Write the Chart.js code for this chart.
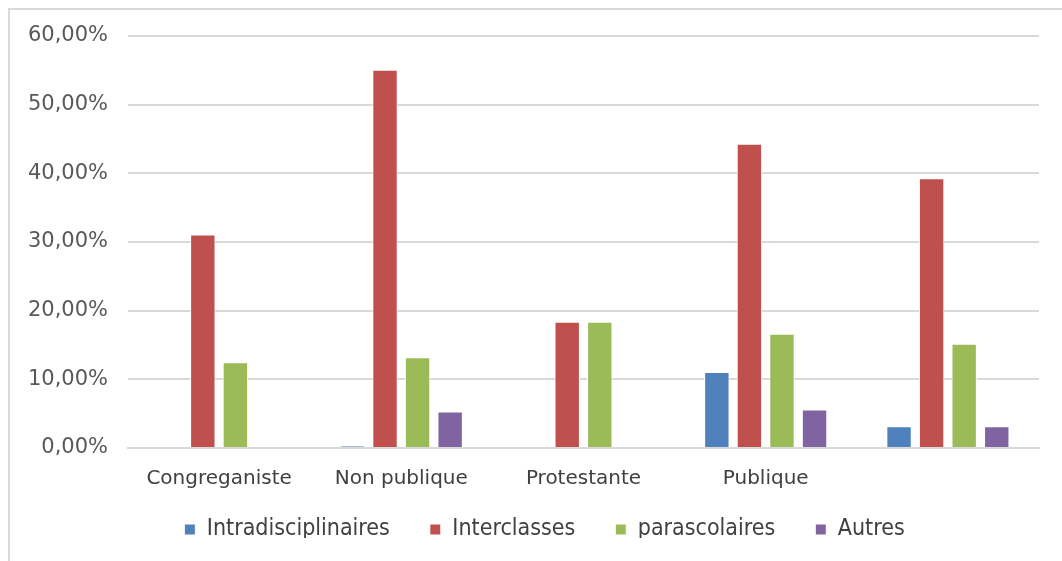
<!DOCTYPE html>
<html lang="fr">
<head>
  <meta charset="UTF-8" />
  <title>Activités par type d'établissement</title>
  <script src="https://cdn.jsdelivr.net/npm/chart.js"></script>
  <style>
    html, body {
      margin: 0;
      padding: 0;
      background: #fff;
      overflow: hidden;
    }
    #frame {
      position: absolute;
      left: 8px;
      top: 8px;
      width: 1100px;
      height: 600px;
      border: 2px solid #d9d9d9;
    }
    #wrap {
      position: absolute;
      left: 0;
      top: 0;
      width: 1062px;
      height: 561px;
    }
  </style>
</head>
<body>
  <div id="frame"></div>
  <div id="wrap"><canvas id="chart"></canvas></div>

  <script>
    // données (en %)
    const categories = ["Congreganiste", "Non publique", "Protestante", "Publique", ""];
    const intradisciplinaires = [0, 0.3, 0, 11.05, 3.15];
    const interclasses = [31.1, 55.1, 18.4, 44.3, 39.3];
    const parascolaires = [12.5, 13.2, 18.4, 16.65, 15.2];
    const autres = [0, 5.3, 0, 5.6, 3.15];
    const yTicks = [0, 10, 20, 30, 40, 50, 60];

    const fmt = v => v.toFixed(2).replace(".", ",") + "%";

    function serie(label, data, color) {
      return {
        label: label,
        data: data,
        backgroundColor: color,
        borderColor: "#ffffff",
        borderWidth: 1,
        barPercentage: 0.78,
        categoryPercentage: 0.715
      };
    }

    // la légende garde un grand écart horizontal, on la remonte un peu
    const legendShift = {
      id: "legendShift",
      afterLayout(chart) {
        const lg = chart.legend;
        if (lg) {
          lg.top -= 23;
          lg.bottom -= 23;
          lg.left += 15;
          lg.right += 15;
        }
      }
    };

    const ctx = document.getElementById("chart").getContext("2d");
    new Chart(ctx, {
      type: "bar",
      data: {
        labels: categories,
        datasets: [
          serie("Intradisciplinaires", intradisciplinaires, "#4F81BD"),
          serie("Interclasses", interclasses, "#C0504D"),
          serie("parascolaires", parascolaires, "#9BBB59"),
          serie("Autres", autres, "#8064A2")
        ]
      },
      plugins: [legendShift],
      options: {
        responsive: true,
        maintainAspectRatio: false,
        animation: false,
        layout: { padding: { left: 20, right: 23, top: 36, bottom: 0 } },
        plugins: {
          tooltip: { enabled: false },
          legend: {
            position: "bottom",
            maxHeight: 60,
            labels: {
              boxWidth: 11,
              boxHeight: 11,
              padding: 40,
              color: "#404040",
              font: { family: "'Liberation Sans Narrow', 'DejaVu Sans Condensed', sans-serif", size: 23 }
            }
          }
        },
        scales: {
          x: {
            afterFit: axis => { axis.height = 53; },
            grid: { display: false, drawTicks: false },
            border: { color: "#d9d9d9", width: 2 },
            ticks: {
              padding: 19,
              color: "#404040",
              font: { family: "'DejaVu Sans', sans-serif", size: 20 }
            }
          },
          y: {
            min: 0,
            max: 60,
            afterBuildTicks: axis => { axis.ticks = yTicks.map(v => ({ value: v })); },
            afterFit: axis => { axis.width = 108; },
            grid: { color: "#d9d9d9", lineWidth: 2, drawTicks: false },
            border: { display: false },
            ticks: {
              padding: 20,
              color: "#595959",
              font: { family: "'DejaVu Sans', sans-serif", size: 21 },
              callback: v => fmt(v)
            }
          }
        }
      }
    });
  </script>
</body>
</html>
